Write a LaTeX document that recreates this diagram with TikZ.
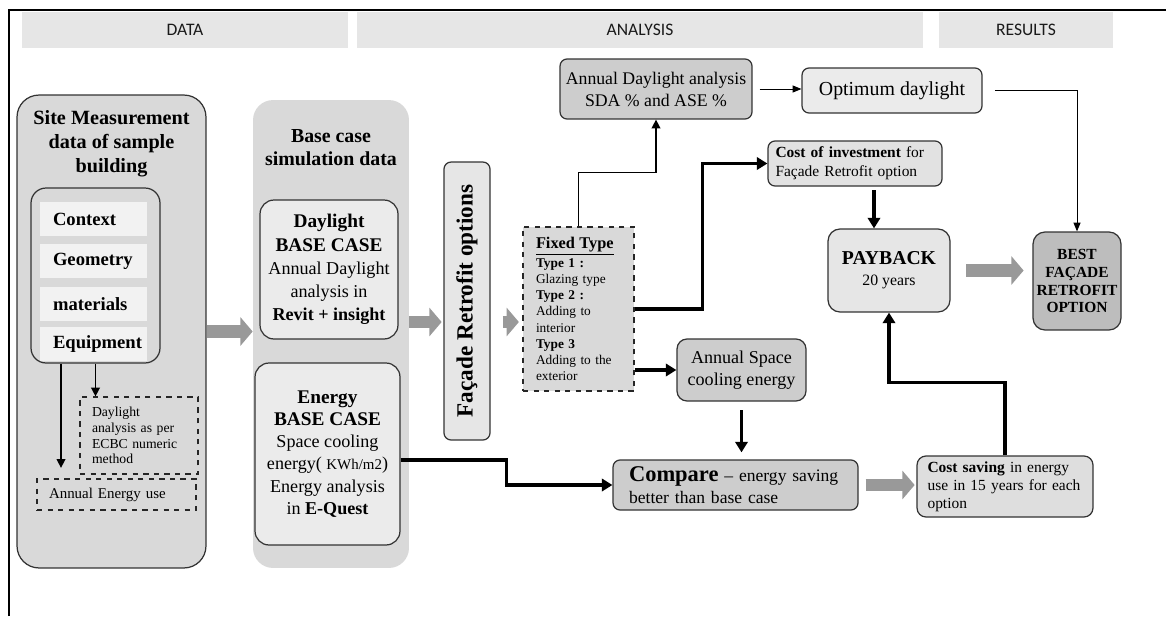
\documentclass[tikz,border=0pt]{standalone}
\usepackage{fontspec}
\setmainfont{Liberation Serif}
\newfontfamily\hdrfont{Carlito}
\usetikzlibrary{positioning, arrows.meta, calc}
\definecolor{fig-hdr}{HTML}{E6E6E6}
\definecolor{fig-mid}{HTML}{D9D9D9}
\definecolor{fig-light}{HTML}{EBEBEB}
\definecolor{fig-pale}{HTML}{F2F2F2}
\definecolor{fig-dark}{HTML}{CDCDCD}
\definecolor{fig-coi}{HTML}{E2E2E2}
\definecolor{fig-cs}{HTML}{DEDEDE}
\definecolor{fig-best}{HTML}{BDBDBD}
\definecolor{fig-block}{HTML}{999999}
\definecolor{fig-ink}{HTML}{1A1A1A}
\newcommand\bigb[1]{{\fontsize{11}{13}\selectfont\bfseries #1}}
\tikzset{
  hdr/.style={fill=fig-hdr, minimum height=0.72cm, inner sep=0pt, font=\hdrfont\fontsize{10}{12}\selectfont, text=fig-ink},
  box/.style={draw=black!80, line width=0.7pt, rounded corners=0.14cm, align=center, inner sep=0pt},
  item/.style={fill=fig-pale, minimum height=0.68cm, text width=1.62cm, inner xsep=0.26cm, inner ysep=0pt, align=left, font=\bfseries\fontsize{10.6}{12}\selectfont},
  dashbox/.style={draw=black!85, dashed, line width=0.7pt, inner ysep=0pt, align=left},
  thinline/.style={line width=0.55pt, -{Triangle[length=5pt,width=4pt]}},
  midline/.style={line width=0.8pt, -{Triangle[length=5pt,width=5pt]}},
  thickline/.style={line width=1.8pt, -{Triangle[length=6pt,width=7pt]}},
  blockarrow/.style={draw=fig-block, line width=7pt, -{Triangle[length=7pt,width=16pt]}},
}
\begin{document}
\begin{tikzpicture}[x=0.02cm, y=-0.02cm]
  \useasboundingbox (0,0) rectangle (1166,616);
  \draw[line width=1.2pt] (9,616) -- (9,10) -- (1166,10);

  % column headers
  \node[hdr, minimum width=6.52cm] (hdata) at (185,30) {DATA};
  \node[hdr, minimum width=11.32cm] (hana) at (640,30) {ANALYSIS};
  \node[hdr, minimum width=3.48cm] (hres) at (1026,30) {RESULTS};

  % site measurement
  \node[box, fill=fig-mid, rounded corners=0.44cm, minimum width=3.78cm, minimum height=9.46cm] (site) at (111.5,331.5) {};
  \node[font=\bfseries\fontsize{11.5}{13.6}\selectfont, align=center] (sitetitle) at (111.5,144) {Site Measurement\\data of sample\\building};
  \node[box, fill=fig-mid, rounded corners=0.3cm, minimum width=2.58cm, minimum height=3.5cm] (sitein) at (95.5,275.5) {};
  \node[item] (ctx) at (93.5,219) {Context};
  \node[item] (geo) at (93.5,261) {Geometry};
  \node[item] (mat) at (93.5,304) {materials};
  \node[item] (equ) at (93.5,344) {Equipment};
  \node[dashbox, text width=1.88cm, inner xsep=0.24cm, minimum height=1.54cm, font=\fontsize{7.8}{8.9}\selectfont] (dayecbc) at (139,435.5) {Daylight\\analysis as per\\ECBC numeric\\method};
  \node[dashbox, text width=2.7cm, inner xsep=0.24cm, minimum height=0.62cm, font=\fontsize{8.5}{10}\selectfont] (aeu) at (116.5,494.5) {Annual Energy use};

  % base case
  \node[fill=fig-mid, rounded corners=0.4cm, minimum width=3.12cm, minimum height=9.36cm, inner sep=0pt] (base) at (331,334) {};
  \node[font=\bfseries\fontsize{11.3}{13}\selectfont, align=center] (basetitle) at (331,148) {Base case\\simulation data};
  \node[box, fill=fig-light, rounded corners=0.28cm, minimum width=2.76cm, minimum height=2.78cm, font=\fontsize{10.3}{13.2}\selectfont] (dlbase) at (329,269.5) {\bigb{Daylight}\\\bigb{BASE CASE}\\Annual Daylight\\analysis in\\\textbf{Revit + insight}};
  \node[box, fill=fig-light, rounded corners=0.28cm, minimum width=2.9cm, minimum height=3.64cm, font=\fontsize{10.3}{12.6}\selectfont] (enbase) at (327.5,454) {\bigb{Energy}\\\bigb{BASE CASE}\\Space cooling\\energy( {\fontsize{8.5}{10}\selectfont KWh/m2})\\Energy analysis\\in \textbf{E-Quest}};

  % analysis
  \node[box, fill=fig-hdr, minimum width=0.92cm, minimum height=5.56cm] (facade) at (467,301) {\rotatebox{90}{\bfseries\fontsize{13.2}{15}\selectfont Façade Retrofit options}};
  \node[dashbox, fill=fig-mid, text width=1.7cm, inner xsep=0.26cm, minimum height=3.28cm, font=\fontsize{7.6}{9.2}\selectfont] (fixed) at (578.5,309) {{\fontsize{9.3}{11}\selectfont\bfseries\underline{Fixed Type}}\\[1.5pt]\textbf{Type 1 :}\\Glazing type\\\textbf{Type 2 :}\\Adding to\\interior\\\textbf{Type 3}\\Adding to the\\exterior};
  \node[box, fill=fig-dark, minimum width=3.84cm, minimum height=1.2cm, font=\fontsize{10.1}{12.5}\selectfont] (adl) at (656,89) {Annual Daylight analysis\\SDA \% and ASE \%};
  \node[box, fill=fig-light, minimum width=3.6cm, minimum height=0.9cm, font=\fontsize{11.3}{13}\selectfont] (opt) at (892,90.5) {Optimum daylight};
  \node[box, fill=fig-coi, text width=3.18cm, inner xsep=0.15cm, minimum height=0.9cm, align=left, font=\fontsize{8.8}{10.8}\selectfont] (coi) at (855,163.5) {\textbf{Cost of investment} for\\Façade Retrofit option};
  \node[box, fill=fig-hdr, rounded corners=0.24cm, minimum width=2.44cm, minimum height=1.66cm, font=\fontsize{9}{12}\selectfont] (pay) at (889,270.5) {{\fontsize{11.2}{13}\selectfont\bfseries PAYBACK}\\20 years};
  \node[box, fill=fig-dark, rounded corners=0.2cm, minimum width=2.58cm, minimum height=1.24cm, font=\fontsize{10.3}{12.5}\selectfont] (asc) at (741.5,370) {Annual Space\\cooling energy};
  \node[box, fill=fig-dark, text width=4.26cm, inner xsep=0.32cm, minimum height=1cm, align=left, font=\fontsize{10}{12.5}\selectfont] (cmp) at (735.5,485) {{\fontsize{12.8}{14}\selectfont\bfseries Compare} -- energy saving\\better than base case};
  \node[box, fill=fig-cs, rounded corners=0.18cm, text width=3.1cm, inner xsep=0.21cm, minimum height=1.22cm, align=left, font=\fontsize{8.8}{10.2}\selectfont] (cs) at (1005,486.5) {\textbf{Cost saving} in energy\\use in 15 years for each\\option};

  % results
  \node[box, fill=fig-best, rounded corners=0.24cm, minimum width=1.76cm, minimum height=1.96cm, font=\bfseries\fontsize{8.8}{10.2}\selectfont] (best) at (1077,281) {BEST\\FAÇADE\\RETROFIT\\OPTION};

  % connectors
  \draw[midline] (sitein.south) -- (sitein.south |- dayecbc.north);
  \draw[midline, shorten >=6pt] ([xshift=-0.69cm]sitein.south) -- ([xshift=-0.69cm]sitein.south |- aeu.north);
  \draw[blockarrow] (site.east) -- (site.east -| base.west);
  \draw[blockarrow, shorten >=1pt] ([yshift=0.24cm]base.east) -- ([yshift=0.24cm]base.east -| facade.west);
  \draw[blockarrow, shorten <=7pt, shorten >=2pt] ([yshift=-0.42cm]facade.east) -- ([yshift=-0.42cm]facade.east -| fixed.west);
  \draw[midline] (fixed.north) -- ++(0,-54) -| (adl.south);
  \draw[thinline, shorten <=4pt] (adl.east) -- (adl.east -| opt.west);
  \draw[thinline, shorten <=7pt] (opt.east) -| (best.north);
  \draw[thickline] (fixed.east) -- ++(68,0) |- (coi.west);
  \draw[thickline, shorten <=2pt] ([xshift=-0.3cm]pay.north |- coi.south) -- ([xshift=-0.3cm]pay.north);
  \draw[blockarrow, shorten <=9pt, shorten >=5pt] (pay.east) -- (pay.east -| best.west);
  \draw[thickline] (asc.west -| fixed.east) -- (asc.west);
  \draw[thickline, shorten <=5pt, shorten >=4pt] (asc.south) -- (asc.south |- cmp.north);
  \draw[thickline] ([yshift=-0.12cm]enbase.east) -- ++(106,0) |- (cmp.west);
  \draw[blockarrow, shorten <=4pt, shorten >=1pt] (cmp.east) -- (cmp.east -| cs.west);
  \draw[thickline] (cs.north) -- ++(0,-73) -| (pay.south);
\end{tikzpicture}
\end{document}
